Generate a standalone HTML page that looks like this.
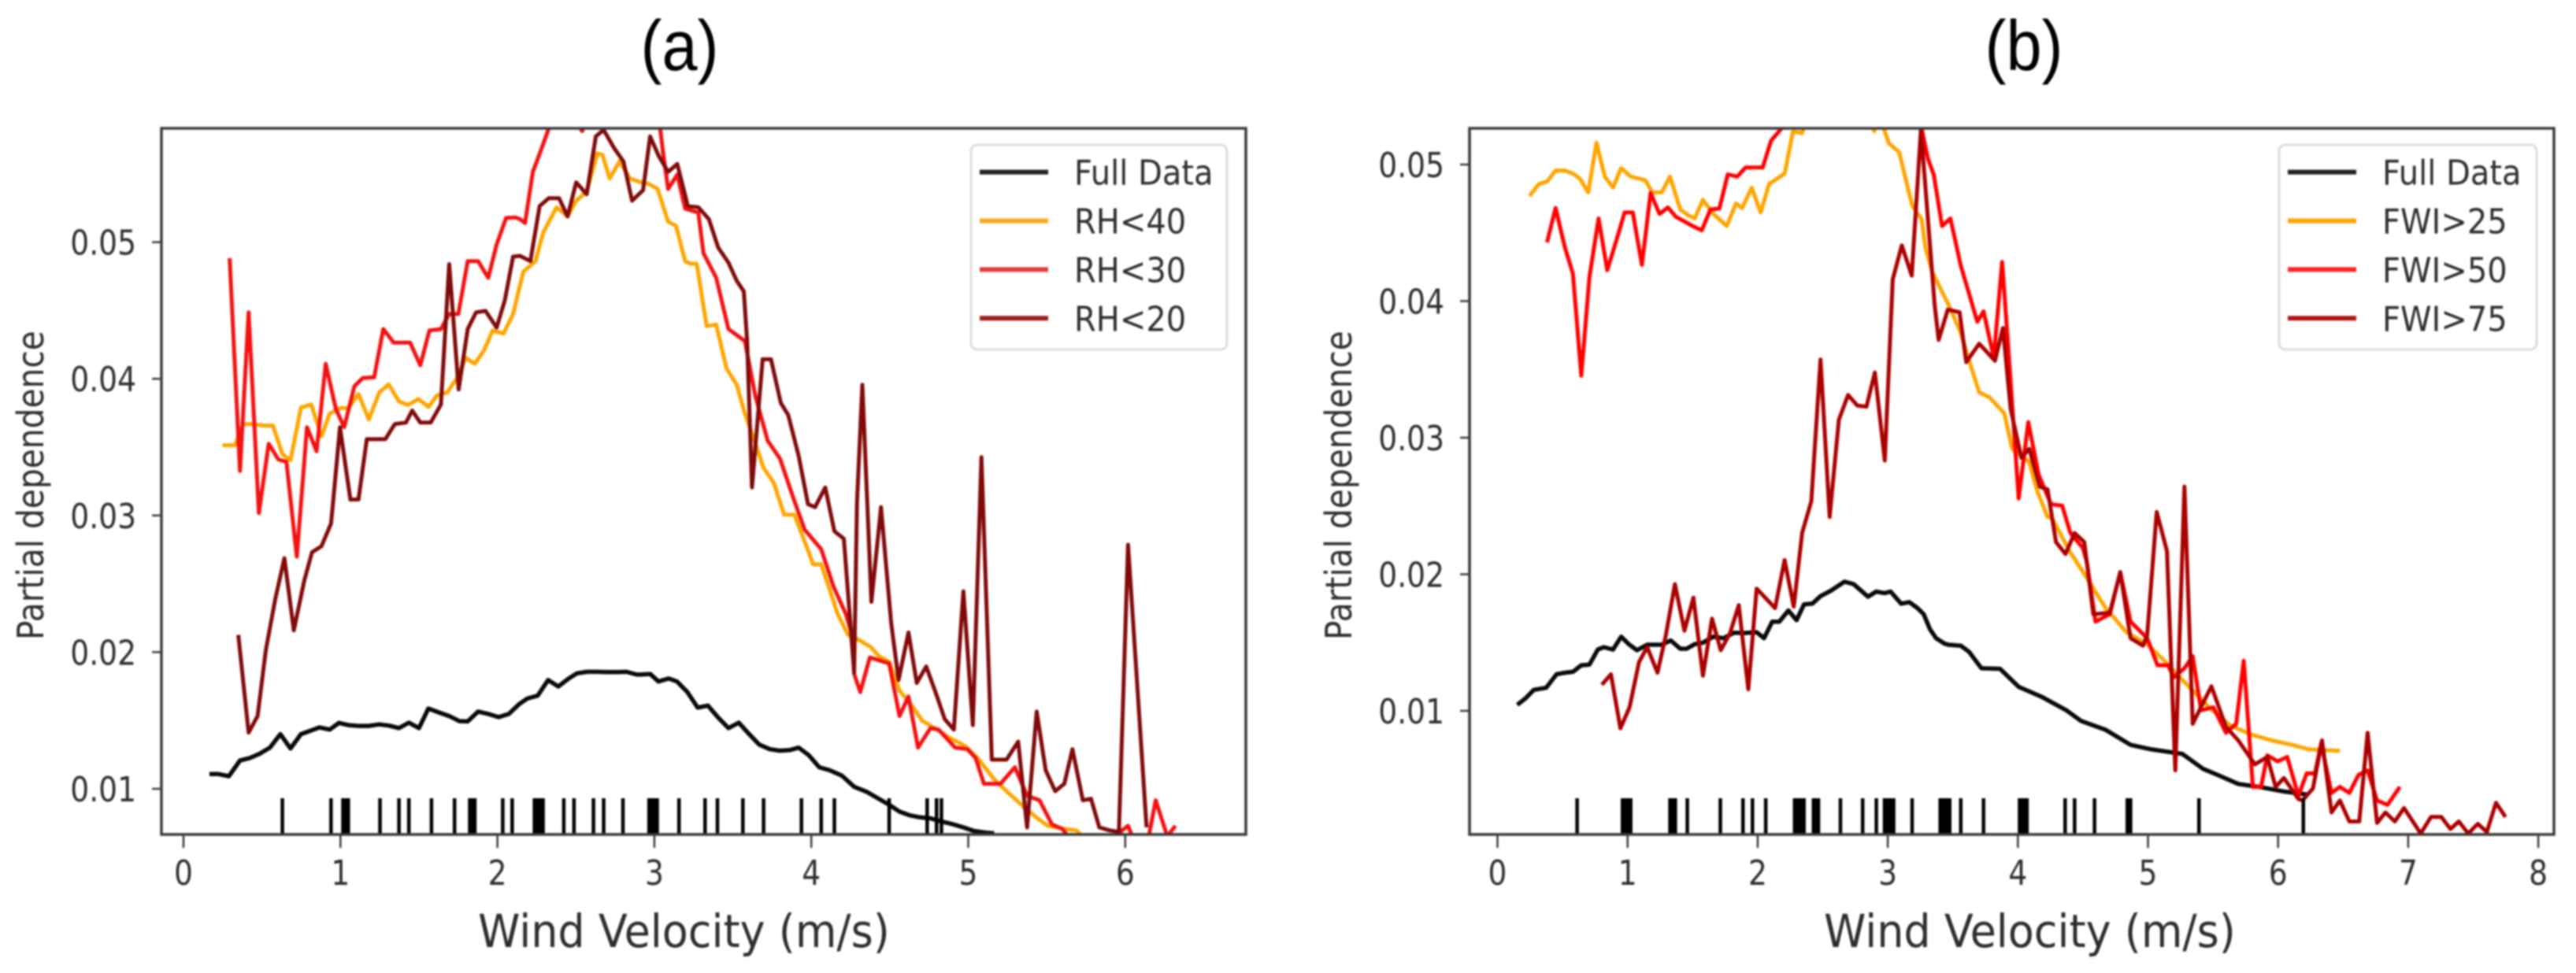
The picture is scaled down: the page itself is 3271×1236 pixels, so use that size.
<!DOCTYPE html>
<html lang="en">
<head>
<meta charset="utf-8">
<title>Partial dependence on wind velocity</title>
<style>
html,body{margin:0;padding:0;background:#fff;}
body{width:3271px;height:1236px;overflow:hidden;}
svg{display:block;filter:blur(1.1px);}
text{font-family:"DejaVu Sans","Liberation Sans",sans-serif;fill:#2e2e2e;}
.title{font-family:"Liberation Sans",sans-serif;fill:#000;}
</style>
</head>
<body>
<svg id="figure" xmlns="http://www.w3.org/2000/svg" width="3271" height="1236" viewBox="0 0 3271 1236">
  <defs>
    <clipPath id="clip-a"><rect x="205" y="163" width="1377" height="897"/></clipPath>
    <clipPath id="clip-b"><rect x="1866" y="163" width="1377" height="897"/></clipPath>
  </defs>
  <rect width="3271" height="1236" fill="#fff"/>
  <text class="title" transform="translate(863,89) scale(0.9,1)" text-anchor="middle" font-size="90">(a)</text>
  <text class="title" transform="translate(2570,89) scale(0.9,1)" text-anchor="middle" font-size="90">(b)</text>
  <g id="panel-a"></g>
  <g id="panel-b"></g>
</svg>
<script>
// ---------- Panel (a) data ----------
const aXTicks = [0, 1, 2, 3, 4, 5, 6];
const aYTicks = [0.01, 0.02, 0.03, 0.04, 0.05];
const aLegendLabels = ["Full Data", "RH<40", "RH<30", "RH<20"];
const aRug = [.63,.94,1.016,1.03,1.05,1.252,1.373,1.436,1.58,1.727,1.824,1.843,1.856,2.034,2.094,2.236,2.257,2.276,2.291,2.423,2.488,2.612,2.677,2.80,2.966,2.979,2.992,3.008,3.018,3.157,3.323,3.402,3.564,3.696,3.937,4.063,4.147,4.496,4.738,4.798,4.829];

const aFullX = [.165,.223,.289,.36,.42,.486,.551,.617,.682,.748,.814,.866,.932,.99,1.05,1.115,1.18,1.247,1.312,1.373,1.436,1.5,1.56,1.627,1.693,1.758,1.811,1.877,1.942,2.008,2.073,2.139,2.19,2.257,2.323,2.388,2.454,2.507,2.572,2.638,2.703,2.769,2.822,2.887,2.908,2.974,3.026,3.092,3.144,3.21,3.276,3.341,3.407,3.472,3.538,3.604,3.669,3.735,3.80,3.866,3.919,3.984,4.05,4.116,4.194,4.273,4.352,4.43,4.496,4.562,4.627,4.693,4.759,4.824,4.903,4.969,5.034,5.113,5.165];
const aFullY = [.01108,.01108,.01092,.01207,.01224,.01257,.01301,.014,.01295,.014,.01427,.01449,.01433,.01482,.01466,.0146,.0146,.01471,.01462,.01444,.01484,.01444,.01587,.01559,.01532,.01495,.01493,.01565,.01548,.01524,.01548,.0162,.0166,.01682,.01796,.01748,.01807,.01845,.01856,.01856,.01854,.01854,.01856,.01836,.01836,.0184,.01785,.01807,.01785,.01708,.01594,.01609,.01521,.01444,.01484,.014,.01323,.0129,.01279,.01284,.01301,.01246,.01158,.01136,.01097,.01015,.00978,.00927,.00883,.00833,.00806,.00791,.00784,.00762,.0074,.00718,.00692,.00679,.00674];

const aRh40X = [.249,.328,.381,.446,.512,.57,.63,.682,.748,.814,.879,.932,.997,1.05,1.115,1.181,1.247,1.307,1.373,1.43,1.496,1.562,1.614,1.68,1.745,1.798,1.856,1.916,1.969,2.039,2.10,2.165,2.243,2.293,2.377,2.447,2.502,2.569,2.636,2.669,2.715,2.778,2.845,2.904,2.962,3.021,3.088,3.138,3.196,3.23,3.27,3.333,3.394,3.459,3.525,3.577,3.638,3.696,3.761,3.827,3.892,3.984,4.01,4.063,4.168,4.234,4.299,4.378,4.43,4.496,4.562,4.64,4.706,4.785,4.89,4.982,5.06,5.165,5.244,5.349,5.441,5.507,5.612,5.69,5.717];
const aRh40Y = [.03514,.03514,.03669,.03669,.03658,.03658,.03448,.03404,.0379,.03812,.0358,.03746,.03786,.03786,.03889,.03702,.039,.0396,.03834,.03808,.03852,.03794,.03878,.039,.04011,.04154,.0411,.0421,.04353,.04331,.04474,.04784,.04861,.05073,.05255,.05188,.05303,.0537,.05649,.05639,.05466,.05591,.05466,.05441,.05428,.05389,.05149,.0512,.04861,.04842,.04842,.04386,.04397,.04077,.03956,.03746,.03547,.03348,.03238,.03006,.03006,.02731,.02643,.02643,.0228,.02126,.02093,.02038,.01972,.01928,.01719,.01609,.01499,.01444,.01367,.01312,.01224,.0107,.00982,.00872,.00784,.00729,.00707,.00696,.00663];

const aRh30X = [.294,.36,.415,.48,.543,.604,.656,.722,.787,.848,.906,.971,1.024,1.089,1.142,1.215,1.273,1.339,1.444,1.509,1.567,1.64,1.693,1.751,1.811,1.877,1.942,1.995,2.055,2.113,2.143,2.176,2.226,2.276,2.327,2.38,2.44,2.54,2.6,2.7,2.85,2.95,3.037,3.054,3.088,3.146,3.196,3.28,3.313,3.394,3.472,3.577,3.643,3.722,3.801,3.892,3.958,4.063,4.142,4.22,4.26,4.273,4.312,4.373,4.496,4.562,4.619,4.68,4.759,4.811,4.916,4.995,5.047,5.1,5.205,5.297,5.375,5.454,5.533,5.598,5.638,5.94,5.98,6.018,6.045,6.15,6.194,6.268,6.32];
const aRh30Y = [.04883,.03326,.04486,.03017,.03525,.0341,.03393,.02698,.03646,.0347,.0411,.03779,.03646,.03945,.04006,.04011,.04364,.04265,.04265,.04099,.04353,.04364,.04474,.04474,.04861,.04861,.04739,.04982,.05177,.05181,.05169,.0514,.05514,.05667,.05831,.061,.06,.05812,.06,.061,.061,.0595,.05831,.05667,.05389,.05494,.05245,.05217,.04919,.0474,.04364,.04276,.03878,.03547,.03415,.03106,.02896,.02753,.02478,.0228,.02126,.0184,.01708,.01961,.01917,.01532,.01675,.01301,.01444,.01433,.01301,.0129,.01224,.01037,.01037,.01158,.00949,.00916,.0074,.00707,.00652,.00652,.00696,.00729,.00652,.00652,.00916,.00652,.00729];

const aRh20X = [.349,.415,.472,.525,.585,.643,.703,.769,.819,.879,.94,.953,.997,1.063,1.115,1.168,1.286,1.346,1.417,1.457,1.509,1.575,1.64,1.693,1.753,1.811,1.864,1.924,1.995,2.047,2.1,2.143,2.21,2.269,2.327,2.393,2.447,2.502,2.569,2.627,2.677,2.744,2.803,2.858,2.928,2.973,3.028,3.088,3.146,3.213,3.28,3.347,3.407,3.472,3.525,3.57,3.591,3.622,3.69,3.743,3.806,3.853,3.919,3.979,4.024,4.089,4.147,4.207,4.273,4.291,4.325,4.383,4.444,4.509,4.556,4.619,4.672,4.732,4.798,4.85,4.908,4.969,5.029,5.084,5.15,5.244,5.318,5.375,5.436,5.493,5.554,5.612,5.664,5.73,5.782,5.835,5.90,5.96,6.018,6.136];
const aRh20Y = [.02126,.01411,.01532,.02016,.0239,.02687,.02159,.02522,.02731,.02775,.0294,.03094,.03646,.03117,.03117,.03558,.03558,.03669,.0368,.03768,.0368,.0368,.03812,.04839,.03922,.04364,.04486,.04497,.04375,.04574,.04894,.049,.04861,.05264,.05322,.05322,.05188,.05437,.05351,.05774,.05821,.05687,.05591,.05303,.0538,.05774,.0563,.05514,.05572,.05264,.05255,.05169,.0496,.0485,.04717,.0464,.04276,.03205,.04143,.04143,.03823,.03735,.03437,.03083,.03061,.03205,.02885,.0283,.01851,.03094,.03956,.02368,.03061,.02214,.01796,.02144,.01774,.01895,.01686,.0151,.01433,.02445,.01466,.03426,.01213,.01213,.01345,.00718,.01565,.01136,.00982,.01037,.0129,.00916,.00927,.00718,.00696,.00685,.02786,.00718];

// ---------- Panel (b) data ----------
const bXTicks = [0, 1, 2, 3, 4, 5, 6, 7, 8];
const bYTicks = [0.01, 0.02, 0.03, 0.04, 0.05];
const bLegendLabels = ["Full Data", "FWI>25", "FWI>50", "FWI>75"];
const bRug = [.612,.961,.983,1.009,1.024,1.326,1.348,1.367,1.459,1.713,1.887,1.96,2.062,2.284,2.309,2.331,2.356,2.429,2.452,2.467,2.636,2.807,2.912,2.975,2.997,3.022,3.045,3.187,3.403,3.425,3.451,3.476,3.561,3.736,4.013,4.032,4.054,4.07,4.363,4.436,4.589,4.841,4.866,5.392,6.194];

const bFullX = [.152,.216,.279,.374,.454,.517,.58,.644,.707,.771,.818,.888,.951,1.009,1.072,1.151,1.262,1.332,1.405,1.453,1.516,1.579,1.659,1.738,1.817,1.897,1.992,2.049,2.112,2.166,2.236,2.299,2.356,2.42,2.483,2.563,2.667,2.737,2.848,2.911,2.975,3.022,3.102,3.165,3.229,3.276,3.324,3.371,3.435,3.465,3.561,3.624,3.72,3.863,4.006,4.182,4.373,4.484,4.675,4.866,5.025,5.264,5.424,5.535,5.694,5.854,6.045,6.22];
const bFullY = [.01044,.01092,.01154,.01169,.01268,.01279,.01286,.01334,.01339,.01449,.01466,.01449,.01543,.01488,.01444,.01484,.01484,.01515,.01455,.01455,.01488,.01499,.01543,.01532,.01572,.0157,.01576,.01532,.01653,.01653,.01735,.01664,.01779,.01785,.0184,.0188,.01946,.01928,.01836,.01873,.01862,.01873,.01785,.01796,.01752,.01708,.01598,.01532,.01493,.01484,.01477,.01433,.01312,.01308,.01176,.01103,.01004,.00927,.00861,.00751,.00718,.00685,.00575,.00531,.00465,.00443,.0041,.00388];

const bFwi25X = [.247,.317,.381,.447,.517,.58,.634,.698,.761,.825,.888,.951,1.024,1.135,1.192,1.262,1.326,1.405,1.468,1.516,1.579,1.659,1.763,1.833,1.881,1.954,2.023,2.087,2.207,2.271,2.341,2.4,2.5,2.6,2.7,2.8,2.896,2.93,2.977,3.007,3.088,3.139,3.189,3.26,3.29,3.341,3.391,3.482,3.562,3.623,3.703,3.784,3.895,3.956,4.087,4.148,4.228,4.261,4.404,4.516,4.675,4.834,4.994,5.137,5.312,5.471,5.631,5.79,5.949,6.108,6.236,6.475];
const bFwi25Y = [.0477,.04857,.04875,.04956,.04956,.04934,.04897,.04796,.0516,.04912,.04831,.04974,.04912,.04886,.04796,.04796,.04912,.04671,.04627,.04605,.04741,.04638,.0455,.04715,.04682,.04831,.04649,.04857,.04934,.05241,.0523,.054,.056,.056,.056,.055,.05244,.0535,.05244,.05157,.0509,.04889,.04696,.046,.04389,.04216,.0412,.03943,.03765,.03572,.03332,.03294,.03179,.02919,.02823,.02612,.0242,.02412,.02159,.01994,.01752,.01576,.01488,.01356,.0118,.01026,.00894,.00828,.00784,.00751,.00718,.00707];

const bFwi50X = [.381,.447,.517,.58,.644,.707,.777,.844,.913,.977,1.04,1.11,1.177,1.246,1.31,1.373,1.437,1.5,1.57,1.637,1.706,1.77,1.843,1.906,2.039,2.103,2.182,2.3,2.5,2.8,3.1,3.26,3.308,3.354,3.417,3.481,3.561,3.688,3.736,3.815,3.879,3.927,4.006,4.08,4.159,4.197,4.255,4.341,4.404,4.5,4.532,4.596,4.707,4.787,4.866,4.994,5.073,5.153,5.2,5.28,5.344,5.408,5.503,5.599,5.678,5.736,5.806,5.869,5.917,5.997,6.07,6.156,6.22,6.283,6.331,6.411,6.475,6.548,6.618,6.688,6.761,6.841,6.936];
const bFwi50Y = [.0443,.04682,.04397,.042,.03454,.04178,.04605,.04226,.04441,.04649,.04649,.04265,.04792,.04638,.04686,.04616,.04583,.0455,.04518,.04671,.04678,.04928,.04912,.04978,.04978,.05175,.05263,.056,.058,.058,.056,.05263,.05044,.04923,.0455,.04605,.0426,.03849,.03925,.03586,.04287,.03652,.02555,.03114,.02731,.02644,.02513,.02502,.02302,.02192,.02082,.01653,.01708,.02016,.01653,.01532,.01334,.01334,.01246,.01312,.014,.01004,.01026,.00839,.00905,.01367,.00443,.00443,.00674,.0063,.00663,.00377,.00542,.00542,.00762,.00399,.00443,.00399,.00531,.00564,.00344,.00311,.00443];

const bFwi75X = [.802,.872,.945,1.015,1.088,1.151,1.23,1.294,1.364,1.437,1.506,1.579,1.649,1.716,1.786,1.855,1.928,1.992,2.134,2.207,2.277,2.342,2.412,2.483,2.553,2.624,2.695,2.765,2.836,2.901,2.977,3.038,3.108,3.184,3.255,3.361,3.391,3.461,3.552,3.603,3.703,3.824,3.885,3.945,4.027,4.087,4.168,4.228,4.293,4.366,4.436,4.51,4.58,4.707,4.787,4.866,4.962,4.994,5.067,5.146,5.21,5.28,5.344,5.487,5.599,5.694,5.822,5.917,5.981,6.045,6.156,6.188,6.268,6.338,6.411,6.475,6.548,6.624,6.688,6.761,6.825,6.898,6.968,7.096,7.175,7.255,7.325,7.389,7.462,7.535,7.605,7.675,7.748];
const bFwi75Y = [.01191,.01268,.00872,.01026,.01356,.01466,.01279,.01554,.01928,.01587,.01829,.01257,.01675,.01444,.01565,.01774,.01158,.01895,.01752,.02104,.01763,.02304,.02535,.03572,.0242,.03131,.03313,.03236,.03227,.03477,.02833,.04159,.04408,.04187,.05254,.03967,.03716,.03938,.03918,.03553,.03688,.03563,.03803,.03207,.02852,.02919,.02641,.02622,.02236,.02148,.02302,.02236,.01708,.01719,.02016,.01532,.01477,.01554,.02456,.0217,.00564,.02642,.00905,.0118,.00883,.00784,.00608,.00663,.00443,.00509,.00355,.00344,.00432,.00784,.00256,.00344,.0019,.0019,.00839,.00179,.00256,.0019,.00289,.00102,.00223,.00223,.00135,.0019,.00102,.00173,.00113,.00327,.00223];

// ---------- Drawing ----------
const SVGNS = 'http://www.w3.org/2000/svg';
function mk(parent, tag, attrs) {
  const el = document.createElementNS(SVGNS, tag);
  for (const k in attrs) el.setAttribute(k, attrs[k]);
  parent.appendChild(el);
  return el;
}
function drawPanel(cfg) {
  const g = document.getElementById(cfg.id);
  const xScale = v => cfg.x0 + cfg.xUnit * v;
  const yScale = v => cfg.y01 - (v - 0.01) * cfg.yUnit;

  // series, clipped to the axes rectangle
  const plot = mk(g, 'g', {'clip-path': 'url(#' + cfg.clip + ')'});
  
  
  cfg.series.forEach(s => {
    const n = Math.min(s.x.length, s.y.length);
    const pts = [];
    for (let i = 0; i < n; i++) pts.push(xScale(s.x[i]).toFixed(1) + ',' + yScale(s.y[i]).toFixed(1));
    const line = mk(plot, 'polyline', {points: pts.join(' '), fill: 'none', stroke: s.color, 'stroke-width': s.width, 'stroke-linejoin': 'round'});
    
    
  });
  // rug marks
  cfg.rug.forEach(v => {
    const tick = mk(plot, 'line', {x1: xScale(v), x2: xScale(v), y1: cfg.bottom - 46, y2: cfg.bottom, stroke: '#000', 'stroke-width': 4.5});
    
    
  });

  // spines
  const frame = mk(g, 'rect', {x: cfg.left, y: cfg.top, width: cfg.right - cfg.left, height: cfg.bottom - cfg.top, fill: 'none', stroke: '#3a3a3a', 'stroke-width': 3.5});
  
  

  // x ticks
  cfg.xTicks.forEach(v => {
    const t = mk(g, 'line', {x1: xScale(v), x2: xScale(v), y1: cfg.bottom, y2: cfg.bottom + 17, stroke: '#3a3a3a', 'stroke-width': 2.5});
    
    
    const l = mk(g, 'text', {transform: 'translate(' + xScale(v) + ',1124) scale(0.94,1.1)', 'text-anchor': 'middle', 'font-size': 40});
    l.textContent = String(v);
    
    
  });
  // y ticks
  cfg.yTicks.forEach(v => {
    const t = mk(g, 'line', {x1: cfg.left - 12, x2: cfg.left, y1: yScale(v), y2: yScale(v), stroke: '#3a3a3a', 'stroke-width': 2.5});
    
    
    const l = mk(g, 'text', {transform: 'translate(' + (cfg.left - 32) + ',' + (yScale(v) + 16) + ') scale(0.94,1.1)', 'text-anchor': 'end', 'font-size': 40});
    l.textContent = v.toFixed(2);
    
    
  });

  // axis titles
  const xt = mk(g, 'text', {transform: 'translate(' + cfg.xLabelX + ',1203) scale(1,1.07)', 'font-size': 54, fill: '#3c3c3c'});
  xt.textContent = 'Wind Velocity (m/s)';
  
  
  const yt = mk(g, 'text', {transform: 'translate(' + (cfg.left - 150) + ',813) rotate(-90) scale(0.97,1.1)', 'font-size': 42, fill: '#3c3c3c'});
  yt.textContent = 'Partial dependence';
  
  

  // legend
  const lg = mk(g, 'g', {});
  
  
  const box = mk(lg, 'rect', {x: cfg.legendX, y: 184, width: cfg.legendW, height: 260, rx: 8, fill: '#fff', stroke: '#dcdcdc', 'stroke-width': 3});
  
  
  cfg.legendLabels.forEach((label, i) => {
    const y = 218.6 + i * 61.9;
    const sw = mk(lg, 'line', {x1: cfg.legendX + 11, x2: cfg.legendX + 98, y1: y, y2: y, stroke: cfg.legendColors[i], 'stroke-width': 6});
    
    
    const tx = mk(lg, 'text', {transform: 'translate(' + (cfg.legendX + 131) + ',' + (y + 16) + ') scale(1,1.1)', 'font-size': 40});
    tx.textContent = label;
    
    
  });
}

drawPanel({
  id: 'panel-a', clip: 'clip-a',
  left: 205, right: 1582, top: 163, bottom: 1060,
  x0: 233, xUnit: 199.3, y01: 1002, yUnit: 17360,
  xTicks: aXTicks, yTicks: aYTicks, rug: aRug,
  xLabelX: 607, legendX: 1233, legendW: 325,
  legendLabels: aLegendLabels,
  legendColors: ['#222222', '#ffa51e', '#e03a3a', '#a01c1c'],
  series: [
    {slug: 'full-data', x: aFullX, y: aFullY, color: '#0a0a0a', width: 5.5},
    {slug: 'rh-40', x: aRh40X, y: aRh40Y, color: '#ffa500', width: 5},
    {slug: 'rh-30', x: aRh30X, y: aRh30Y, color: '#f21212', width: 5},
    {slug: 'rh-20', x: aRh20X, y: aRh20Y, color: '#800a0a', width: 5}
  ]
});
drawPanel({
  id: 'panel-b', clip: 'clip-b',
  left: 1866, right: 3243, top: 163, bottom: 1060,
  x0: 1901.5, xUnit: 165.2, y01: 903, yUnit: 17350,
  xTicks: bXTicks, yTicks: bYTicks, rug: bRug,
  xLabelX: 2316, legendX: 2894, legendW: 327,
  legendLabels: bLegendLabels,
  legendColors: ['#222222', '#ffa500', '#ff2020', '#b01515'],
  series: [
    {slug: 'full-data', x: bFullX, y: bFullY, color: '#0a0a0a', width: 5.5},
    {slug: 'fwi-25', x: bFwi25X, y: bFwi25Y, color: '#ffa500', width: 5},
    {slug: 'fwi-50', x: bFwi50X, y: bFwi50Y, color: '#ff0000', width: 5},
    {slug: 'fwi-75', x: bFwi75X, y: bFwi75Y, color: '#aa0000', width: 5}
  ]
});
</script>
</body>
</html>
